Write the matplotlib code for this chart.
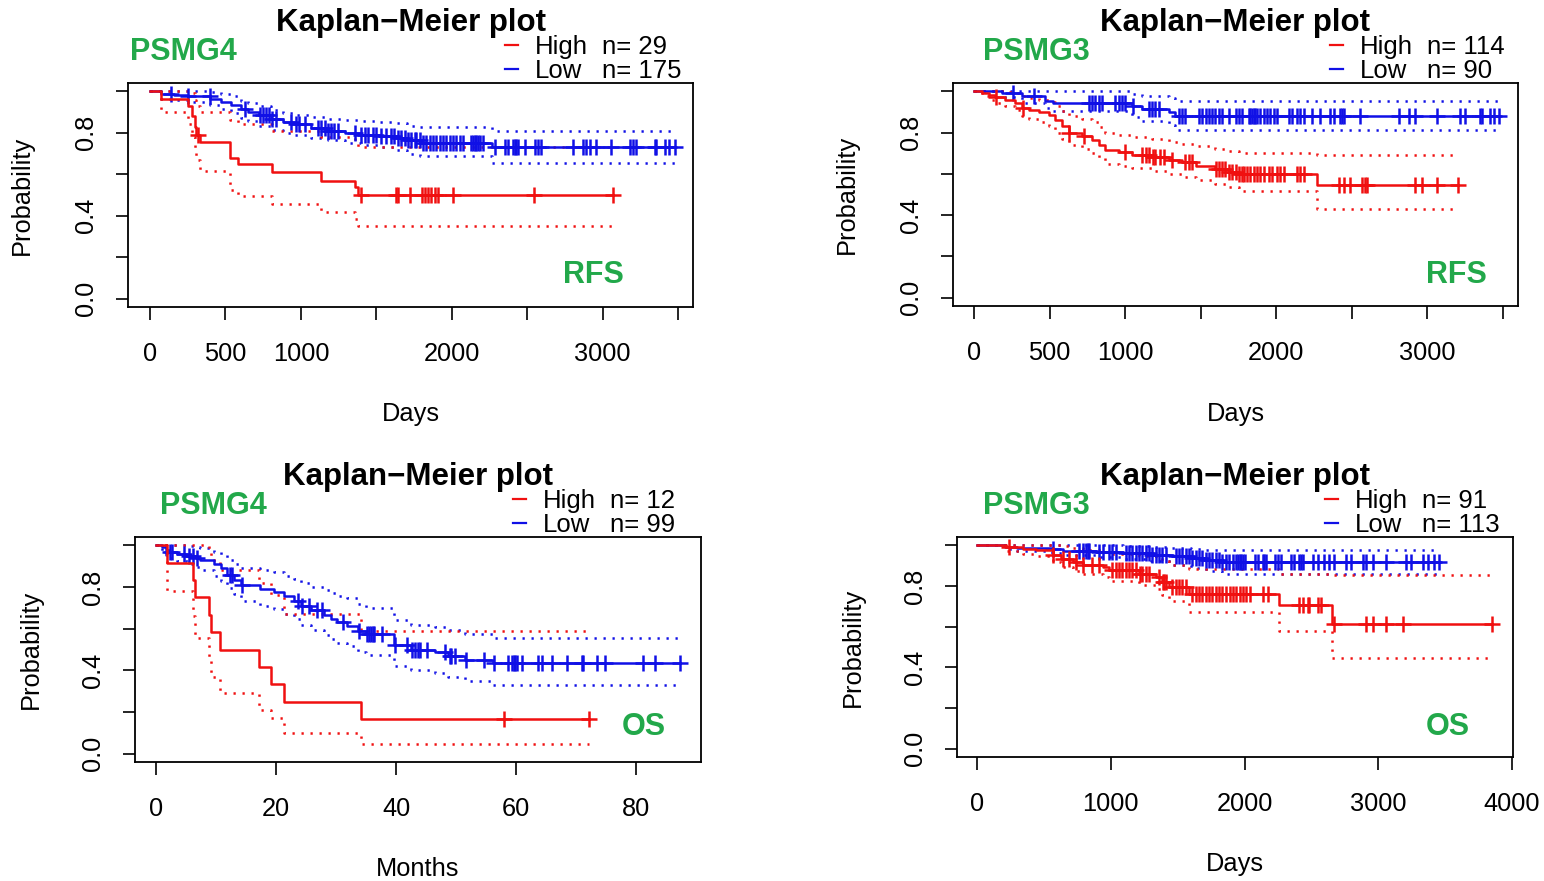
import numpy as np
import matplotlib
matplotlib.use("Agg")
import matplotlib.pyplot as plt
from matplotlib.lines import Line2D

plt.rcParams['font.family'] = ['Liberation Sans', 'DejaVu Sans']

# ---------------- data ----------------
# panel 1: PSMG4, RFS (days)
p1_high_t = [0, 75, 252, 278, 295, 305, 330, 530, 583, 808, 1133, 1358, 1377]
p1_high_s = [1.0, 0.965, 0.93, 0.88, 0.83, 0.79, 0.755, 0.68, 0.65, 0.61, 0.567, 0.54, 0.50]
p1_high_lo = [1.0, 0.90, 0.84, 0.78, 0.72, 0.67, 0.615, 0.525, 0.495, 0.456, 0.42, 0.385, 0.35]
p1_high_hi = [1.0, 1.0, 1.0, 0.99, 0.96, 0.93, 0.90, 0.86, 0.84, 0.81, 0.78, 0.76, 0.73]
p1_high_cens = [318, 1400, 1630, 1645, 1722, 1800, 1820, 1845, 1865, 1890, 1910, 2005, 2545, 3070]

p1_low_t = [0, 73, 160, 250, 400, 470, 540, 600, 650, 720, 800, 880, 960, 1070, 1180,
            1290, 1400, 1520, 1640, 1700, 1790, 2270]
p1_low_s = [1.0, 0.985, 0.98, 0.975, 0.965, 0.95, 0.935, 0.915, 0.90, 0.885, 0.865, 0.85,
            0.84, 0.825, 0.81, 0.80, 0.79, 0.785, 0.775, 0.765, 0.75, 0.73]
p1_low_hi = [1.0, 1.0, 1.0, 1.0, 0.995, 0.985, 0.975, 0.955, 0.945, 0.93, 0.91, 0.895,
             0.885, 0.875, 0.865, 0.86, 0.855, 0.85, 0.845, 0.835, 0.83, 0.81]
p1_low_lo = [1.0, 0.965, 0.96, 0.95, 0.935, 0.915, 0.895, 0.87, 0.855, 0.835, 0.815, 0.80,
             0.79, 0.775, 0.765, 0.75, 0.74, 0.73, 0.715, 0.70, 0.69, 0.653]
p1_low_cens = [139, 252, 397, 629, 730, 750, 770, 790, 810, 834, 934, 965, 985, 1026, 1113,
               1135, 1157, 1180, 1200, 1222, 1245, 1358, 1400, 1422, 1444, 1477, 1500, 1532,
               1565, 1598, 1620, 1643, 1665, 1687, 1710, 1732, 1755, 1766, 1788, 1810, 1832,
               1854, 1876, 1898, 1921, 1943, 1965, 1987, 2009, 2031, 2053, 2075, 2130, 2141,
               2152, 2163, 2174, 2185, 2208, 2285, 2351, 2373, 2406, 2417, 2428, 2439, 2483,
               2550, 2572, 2594, 2804, 2870, 2892, 2914, 2958, 3057, 3179, 3201, 3223, 3344,
               3355, 3411, 3440, 3480]
p1_n = [29, 175]

# panel 2: PSMG3, RFS (days)
p2_high_t = [0, 53, 97, 141, 208, 274, 318, 362, 428, 495, 539, 583, 627, 715, 781, 826,
             870, 958, 1046, 1179, 1289, 1377, 1466, 1598, 1687, 1753, 2270]
p2_high_s = [1.0, 0.99, 0.98, 0.97, 0.96, 0.945, 0.92, 0.91, 0.90, 0.885, 0.86, 0.83, 0.80,
             0.785, 0.765, 0.74, 0.715, 0.705, 0.69, 0.68, 0.665, 0.655, 0.64, 0.625, 0.61,
             0.60, 0.547]
p2_high_hi = [1.0, 1.0, 1.0, 1.0, 0.995, 0.99, 0.975, 0.965, 0.96, 0.95, 0.93, 0.905, 0.88,
              0.865, 0.85, 0.825, 0.80, 0.79, 0.78, 0.77, 0.755, 0.745, 0.735, 0.72, 0.71,
              0.70, 0.69]
p2_high_lo = [1.0, 0.975, 0.96, 0.945, 0.93, 0.91, 0.88, 0.865, 0.85, 0.83, 0.80, 0.77, 0.74,
              0.72, 0.70, 0.675, 0.65, 0.64, 0.63, 0.615, 0.60, 0.585, 0.57, 0.55, 0.535,
              0.515, 0.43]
p2_high_cens = [145, 322, 630, 726, 1002, 1113, 1135, 1157, 1182, 1201, 1234, 1256, 1311,
                1399, 1421, 1443, 1600, 1620, 1642, 1664, 1690, 1709, 1731, 1756, 1775, 1784,
                1806, 1828, 1851, 1872, 1894, 1916, 1949, 1971, 2005, 2027, 2049, 2137, 2159,
                2181, 2413, 2446, 2490, 2567, 2589, 2600, 2920, 2964, 3064, 3200]

p2_low_t = [0, 185, 318, 472, 520, 1046, 1113, 1289, 1333]
p2_low_s = [1.0, 0.99, 0.975, 0.955, 0.945, 0.93, 0.915, 0.90, 0.88]
p2_low_hi = [1.0, 1.0, 1.0, 1.0, 1.0, 0.985, 0.975, 0.965, 0.955]
p2_low_lo = [1.0, 0.97, 0.945, 0.92, 0.905, 0.875, 0.855, 0.835, 0.81]
p2_low_cens = [256, 395, 759, 781, 803, 826, 848, 936, 958, 980, 1002, 1050, 1157, 1179, 1201,
               1223, 1355, 1377, 1399, 1487, 1510, 1532, 1554, 1576, 1598, 1620, 1642, 1687,
               1731, 1753, 1775, 1817, 1828, 1840, 1851, 1862, 1872, 1894, 1916, 1938, 1960,
               1983, 2005, 2082, 2104, 2137, 2159, 2181, 2236, 2291, 2358, 2380, 2424, 2435,
               2446, 2556, 2810, 2876, 2920, 3064, 3219, 3252, 3351, 3362, 3417, 3440, 3475]
p2_n = [114, 90]

# panel 3: PSMG4, OS (months)
p3_high_t = [0, 1.9, 6.2, 6.5, 8.8, 9.2, 10.7, 17.2, 19.1, 21.4, 34.1]
p3_high_s = [1.0, 0.917, 0.833, 0.75, 0.667, 0.583, 0.50, 0.417, 0.333, 0.25, 0.167]
p3_high_hi = [1.0, 1.0, 1.0, 1.0, 0.98, 0.93, 0.88, 0.82, 0.76, 0.67, 0.59]
p3_high_lo = [1.0, 0.78, 0.66, 0.555, 0.46, 0.37, 0.29, 0.21, 0.17, 0.10, 0.048]
p3_high_cens = [57.9, 72.1]

p3_low_t = [0, 1.06, 1.61, 2.17, 3.56, 5.2, 6.6, 7.4, 9.7, 10.8, 11.9, 13.0, 14.1, 17.4, 19.7,
            21.3, 23.0, 24.1, 25.8, 28.0, 29.1, 30.2, 31.9, 33.6, 35.0, 39.7, 42.5, 46.5,
            48.7, 51.5, 56.1]
p3_low_s = [1.0, 0.99, 0.98, 0.97, 0.96, 0.95, 0.94, 0.93, 0.91, 0.89, 0.86, 0.835, 0.81,
            0.79, 0.775, 0.755, 0.735, 0.71, 0.69, 0.665, 0.645, 0.63, 0.615, 0.59, 0.575,
            0.52, 0.50, 0.486, 0.47, 0.45, 0.433]
p3_low_hi = [1.0, 1.0, 1.0, 1.0, 1.0, 0.995, 0.99, 0.985, 0.97, 0.955, 0.93, 0.91, 0.89, 0.88,
             0.87, 0.855, 0.84, 0.82, 0.80, 0.785, 0.77, 0.755, 0.745, 0.72, 0.70, 0.64,
             0.62, 0.61, 0.595, 0.575, 0.557]
p3_low_lo = [1.0, 0.97, 0.955, 0.94, 0.925, 0.91, 0.895, 0.88, 0.855, 0.83, 0.795, 0.765,
             0.735, 0.71, 0.695, 0.67, 0.645, 0.62, 0.595, 0.57, 0.55, 0.53, 0.515, 0.49,
             0.475, 0.42, 0.40, 0.385, 0.37, 0.35, 0.328]
p3_low_cens = [2.4, 2.7, 4.7, 5.5, 6.1, 6.8, 12.4, 12.7, 14.3, 23.6, 24.3, 25.5, 26.9, 27.7,
               31.1, 33.8, 35.2, 35.5, 35.8, 36.1, 36.4, 37.7, 39.9, 41.9, 42.7, 43.2, 43.6,
               44.0, 45.1, 48.2, 48.9, 49.1, 49.8, 51.7, 54.6, 56.3, 58.7, 59.3, 59.6, 59.8,
               60.1, 61.0, 63.7, 64.3, 65.9, 68.4, 70.9, 71.2, 73.4, 74.8, 81.2, 83.2, 87.3]
p3_n = [12, 99]

# panel 4: PSMG3, OS (days)
p4_high_t = [0, 216, 341, 440, 565, 627, 714, 789, 938, 988, 1211, 1336, 1386, 1435, 1584,
             2261, 2657]
p4_high_s = [1.0, 0.99, 0.98, 0.975, 0.95, 0.934, 0.917, 0.905, 0.893, 0.876, 0.86, 0.843,
             0.82, 0.795, 0.762, 0.706, 0.613]
p4_high_hi = [1.0, 1.0, 1.0, 1.0, 1.0, 0.995, 0.985, 0.975, 0.965, 0.955, 0.945, 0.935, 0.92,
              0.905, 0.885, 0.86, 0.853]
p4_high_lo = [1.0, 0.97, 0.955, 0.945, 0.915, 0.895, 0.875, 0.86, 0.845, 0.825, 0.805, 0.785,
              0.755, 0.725, 0.67, 0.58, 0.445]
p4_high_cens = [241, 570, 639, 689, 739, 795, 863, 913, 1012, 1037, 1062, 1087, 1112, 1137,
                1162, 1186, 1215, 1236, 1261, 1286, 1361, 1390, 1398, 1410, 1460, 1485, 1510,
                1535, 1560, 1609, 1634, 1659, 1684, 1709, 1734, 1759, 1784, 1808, 1833, 1858,
                1888, 1913, 1938, 1963, 1988, 2012, 2037, 2137, 2174, 2410, 2435, 2473, 2485,
                2547, 2572, 2672, 2908, 2958, 3057, 3182, 3853]

p4_low_t = [0, 210, 300, 560, 640, 900, 1090, 1300, 1460, 1600, 1709, 1833]
p4_low_s = [1.0, 0.993, 0.986, 0.98, 0.973, 0.966, 0.96, 0.953, 0.945, 0.937, 0.928, 0.917]
p4_low_hi = [1.0, 1.0, 1.0, 1.0, 1.0, 1.0, 0.995, 0.99, 0.985, 0.98, 0.978, 0.975]
p4_low_lo = [1.0, 0.98, 0.97, 0.96, 0.95, 0.94, 0.93, 0.92, 0.905, 0.89, 0.875, 0.86]
p4_low_cens = [565, 764, 789, 813, 826, 838, 913, 938, 988, 1012, 1037, 1112, 1137, 1162, 1186,
               1211, 1236, 1261, 1286, 1311, 1336, 1361, 1386, 1410, 1485, 1510, 1535, 1560,
               1584, 1609, 1634, 1659, 1684, 1709, 1734, 1759, 1784, 1808, 1833, 1858, 1883,
               1913, 1938, 1950, 1963, 1975, 1988, 2000, 2075, 2100, 2137, 2149, 2162, 2224,
               2249, 2274, 2348, 2373, 2410, 2423, 2435, 2510, 2547, 2597, 2634, 2672, 2759,
               2796, 2883, 2908, 2958, 3057, 3207, 3244, 3331, 3368, 3418, 3455]
p4_n = [91, 113]

y_ticks = [0, 0.2, 0.4, 0.6, 0.8, 1.0]
y_labels = ['0.0', '', '0.4', '', '0.8', '']
days_ticks = [0, 500, 1000, 1500, 2000, 2500, 3000, 3500]
days_labels = ['0', '500', '1000', '', '2000', '', '3000', '']
months_ticks = [0, 20, 40, 60, 80]
days4_ticks = [0, 1000, 2000, 3000, 4000]

# ---------------- figure ----------------
W, H = 1544, 881
fig = plt.figure(figsize=(W / 100, H / 100), dpi=100)
GREEN = '#22a84a'
RED = '#f01010'
BLUE = '#1010e6'


def fx(x):
    return x / W


def fy(y):
    return 1 - y / H


def step_at(t, s, x):
    # value of the step curve at the censoring times
    idx = np.searchsorted(np.asarray(t), np.asarray(x), side='right') - 1
    return np.asarray(s)[idx]


def draw_group(ax, t, s, lo, hi, cens, color, zline):
    end = max(t[-1], max(cens))
    tt = list(t) + [end]
    for band in (lo, hi):
        ax.step(tt, list(band) + [band[-1]], where='post', color=color, lw=1.8,
                linestyle=(0, (0.9, 2.7)), zorder=2)
    ax.step(tt, list(s) + [s[-1]], where='post', color=color, lw=1.8, zorder=zline)
    ax.plot(cens, step_at(t, s, cens), linestyle='none', marker='+', ms=12, mew=1.8,
            color=color, zorder=zline)


panels = [
    dict(box=(128, 83, 693, 307), xlim=(-146, 3599), xticks=days_ticks, xlabels=days_labels,
         xname='Days', gene='PSMG4', end='RFS', n=p1_n,
         high=(p1_high_t, p1_high_s, p1_high_lo, p1_high_hi, p1_high_cens),
         low=(p1_low_t, p1_low_s, p1_low_lo, p1_low_hi, p1_low_cens),
         title_y=31, gene_xy=(130, 60), end_xy=(563, 283), ylab_x=22, xlab_y=421),
    dict(box=(953, 83, 1518, 306), xlim=(-139, 3600), xticks=days_ticks, xlabels=days_labels,
         xname='Days', gene='PSMG3', end='RFS', n=p2_n,
         high=(p2_high_t, p2_high_s, p2_high_lo, p2_high_hi, p2_high_cens),
         low=(p2_low_t, p2_low_s, p2_low_lo, p2_low_hi, p2_low_cens),
         title_y=31, gene_xy=(983, 60), end_xy=(1426, 283), ylab_x=847, xlab_y=421),
    dict(box=(135, 537, 701, 762), xlim=(-3.5, 90.8), xticks=months_ticks,
         xlabels=[str(v) for v in months_ticks],
         xname='Months', gene='PSMG4', end='OS', n=p3_n,
         high=(p3_high_t, p3_high_s, p3_high_lo, p3_high_hi, p3_high_cens),
         low=(p3_low_t, p3_low_s, p3_low_lo, p3_low_hi, p3_low_cens),
         title_y=485, gene_xy=(160, 514), end_xy=(622, 735), ylab_x=31, xlab_y=876),
    dict(box=(957, 537, 1513, 757), xlim=(-150, 4007), xticks=days4_ticks,
         xlabels=[str(v) for v in days4_ticks],
         xname='Days', gene='PSMG3', end='OS', n=p4_n,
         high=(p4_high_t, p4_high_s, p4_high_lo, p4_high_hi, p4_high_cens),
         low=(p4_low_t, p4_low_s, p4_low_lo, p4_low_hi, p4_low_cens),
         title_y=485, gene_xy=(983, 514), end_xy=(1426, 735), ylab_x=853, xlab_y=871),
]

for p in panels:
    l, t, r, b = p['box']
    ax = fig.add_axes([fx(l), fy(b), (r - l) / W, (b - t) / H])
    draw_group(ax, *p['low'], BLUE, 3)
    draw_group(ax, *p['high'], RED, 4)
    ax.set_xlim(p['xlim'])
    ax.set_ylim(-0.04, 1.04)
    ax.set_xticks(p['xticks'])
    ax.set_xticklabels(p['xlabels'])
    ax.set_yticks(y_ticks)
    ax.set_yticklabels(y_labels, rotation=90, va='center', ha='center')
    ax.tick_params(axis='both', direction='out', length=9, width=1.2, labelsize=18.3)
    ax.tick_params(axis='x', pad=16)
    ax.tick_params(axis='y', pad=21)
    for sp in ax.spines.values():
        sp.set_linewidth(1.3)

    cx = (l + r) / 2
    fig.text(fx(cx), fy(p['title_y']), 'Kaplan\u2212Meier plot', ha='center',
             va='baseline', fontsize=22.5, fontweight='bold')
    fig.text(fx(p['gene_xy'][0]), fy(p['gene_xy'][1]), p['gene'], color=GREEN,
             fontsize=22, fontweight='bold', va='baseline')
    fig.text(fx(p['end_xy'][0]), fy(p['end_xy'][1]), p['end'], color=GREEN,
             fontsize=22, fontweight='bold', va='baseline')
    fig.text(fx(p['ylab_x']), fy((t + b) / 2), 'Probability', rotation=90,
             ha='center', va='center', fontsize=18.3)
    fig.text(fx(cx), fy(p['xlab_y']), p['xname'], ha='center', va='baseline', fontsize=18.3)

    # legend
    for i, (color, name) in enumerate([(RED, 'High'), (BLUE, 'Low')]):
        yb = t - 29 + 24 * i
        yd = t - 38 + 24 * i
        fig.add_artist(Line2D([fx(r - 188), fx(r - 175)], [fy(yd), fy(yd)], color=color,
                              lw=1.6, transform=fig.transFigure))
        fig.text(fx(r - 158), fy(yb), name, fontsize=18.5, va='baseline')
        fig.text(fx(r - 91), fy(yb), 'n= %d' % p['n'][i], fontsize=18.5, va='baseline')

fig.savefig('out.png', dpi=100)
